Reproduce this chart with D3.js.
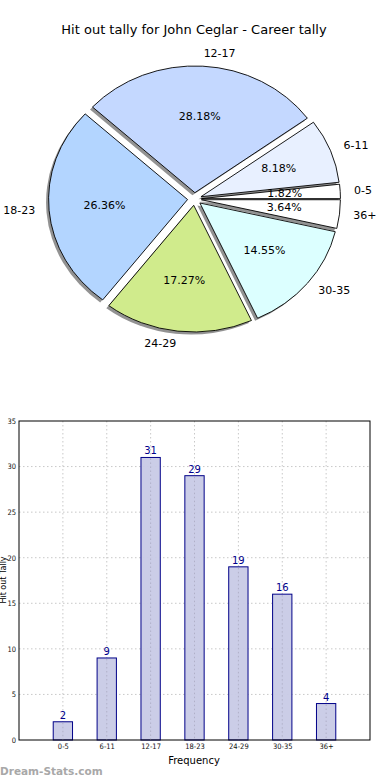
<!DOCTYPE html>
<html><head><meta charset="utf-8">
<script src="https://cdn.jsdelivr.net/npm/d3@7"></script>
<style>body{margin:0;background:#fff}svg{display:block}</style>
</head><body>
<svg id="c" width="390" height="780"></svg>
<script>
const categories = ["0-5","6-11","12-17","18-23","24-29","30-35","36+"];
const values = [2, 9, 31, 29, 19, 16, 4];
const pieColors = ["#ffffff","#e8f0ff","#c4d8ff","#b3d5ff","#d0eb8c","#dcffff","#ffffff"];
const yTicks = [0,5,10,15,20,25,30,35];
const title = "Hit out tally for John Ceglar - Career tally";

const svg = d3.select("#c");
const FONT = "DejaVu Sans, sans-serif";

// ---- Pie (matplotlib-style, elliptical, starting at 3 o'clock CCW) ----
svg.append("text").attr("x",194).attr("y",30).attr("text-anchor","middle")
  .attr("dominant-baseline","middle").attr("font-family",FONT).attr("font-size",13).text(title);

const cx = 194.5, cy = 199, rx = 139, ry = 126.7, explode = 0.05;
const total = d3.sum(values);
const R = 100;
const arc = d3.arc().innerRadius(0).outerRadius(R);
let start = 0;
const slices = values.map((v,i)=>{
  const th0 = start, th1 = start + v/total*2*Math.PI; start = th1;
  return {i, v, th0, th1, mid:(th0+th1)/2};
});
const pg = svg.append("g");
function centerOf(s){
  return [cx + explode*rx*Math.cos(s.mid), cy - explode*ry*Math.sin(s.mid)];
}
// shadows
slices.forEach(s=>{
  const [x,y] = centerOf(s);
  pg.append("path")
    .attr("transform",`translate(${x-2.5},${y+2.5}) scale(${rx/R},${ry/R})`)
    .attr("d", arc({startAngle:Math.PI/2 - s.th1, endAngle:Math.PI/2 - s.th0}))
    .attr("fill","#6e6e6e").attr("opacity",0.75).attr("stroke","none");
});
slices.forEach(s=>{
  const [x,y] = centerOf(s);
  pg.append("path")
    .attr("transform",`translate(${x},${y}) scale(${rx/R},${ry/R})`)
    .attr("d", arc({startAngle:Math.PI/2 - s.th1, endAngle:Math.PI/2 - s.th0}))
    .attr("fill",pieColors[s.i]).attr("stroke","#000").attr("stroke-width",0.9)
    .attr("vector-effect","non-scaling-stroke");
});
slices.forEach(s=>{
  const [x,y] = centerOf(s);
  const c = Math.cos(s.mid), sn = Math.sin(s.mid);
  const lx = x + 1.1*rx*c, ly = y - 1.1*ry*sn;
  pg.append("text").attr("x",lx).attr("y",ly)
    .attr("text-anchor", lx > cx ? "start" : "end").attr("dominant-baseline","middle")
    .attr("font-family",FONT).attr("font-size",11).text(categories[s.i]);
  pg.append("text").attr("x",x + 0.6*rx*c).attr("y",y - 0.6*ry*sn)
    .attr("text-anchor","middle").attr("dominant-baseline","middle")
    .attr("font-family",FONT).attr("font-size",11)
    .text((s.v/total*100).toFixed(2)+"%");
});

// ---- Bar chart ----
const L = 19, Rr = 370, T = 421, B = 740;
const x = d3.scaleLinear().domain([-1, 7]).range([L, Rr]);
const y = d3.scaleLinear().domain([0, 35]).range([B, T]);
const bg = svg.append("g");
const barW = 0.44;
// grid
yTicks.slice(1, -1).forEach(t=>{
  bg.append("line").attr("x1",L).attr("x2",Rr).attr("y1",y(t)).attr("y2",y(t))
    .attr("stroke","#c8c8c8").attr("stroke-width",1).attr("stroke-dasharray","1.5,2.5");
});
categories.forEach((c,i)=>{
  bg.append("line").attr("x1",x(i)).attr("x2",x(i)).attr("y1",T).attr("y2",B)
    .attr("stroke","#c8c8c8").attr("stroke-width",1).attr("stroke-dasharray","1.5,2.5");
});
// bars
bg.selectAll("rect.bar").data(values).enter().append("rect").attr("class","bar")
  .attr("x",(d,i)=>x(i-barW/2)).attr("width",x(barW)-x(0))
  .attr("y",d=>y(d)).attr("height",d=>B-y(d))
  .attr("fill","#c8cae6").attr("fill-opacity",0.95)
  .attr("stroke","#000088").attr("stroke-width",1);
// dotted grid visible over bars
categories.forEach((c,i)=>{
  bg.append("line").attr("x1",x(i)).attr("x2",x(i)).attr("y1",y(values[i])+1).attr("y2",B)
    .attr("stroke","#b0b0c8").attr("stroke-width",1).attr("stroke-dasharray","1.5,2.5");
});
// value labels
bg.selectAll("text.val").data(values).enter().append("text").attr("class","val")
  .attr("x",(d,i)=>x(i)).attr("y",d=>y(d)-3).attr("text-anchor","middle")
  .attr("font-family",FONT).attr("font-size",10).attr("fill","#00008b").text(d=>d);
// frame
bg.append("rect").attr("x",L).attr("y",T).attr("width",Rr-L).attr("height",B-T)
  .attr("fill","none").attr("stroke","#000").attr("stroke-width",1);
// axes
const yAxis = d3.axisLeft(y).tickValues(yTicks).tickSize(0).tickPadding(3);
const ya = bg.append("g").attr("transform",`translate(${L},0)`).call(yAxis);
ya.select(".domain").remove();
ya.selectAll("text").attr("font-family","DejaVu Sans Condensed, DejaVu Sans, sans-serif").attr("font-size",7.5).attr("fill","#111");
const xAxis = d3.axisBottom(x).tickValues(d3.range(categories.length)).tickFormat(i=>categories[i]).tickSize(0).tickPadding(4);
const xa = bg.append("g").attr("transform",`translate(0,${B})`).call(xAxis);
xa.select(".domain").remove();
xa.selectAll("text").attr("font-family","DejaVu Sans Condensed, DejaVu Sans, sans-serif").attr("font-size",7.5).attr("fill","#111");
bg.append("text").attr("x",194).attr("y",761).attr("text-anchor","middle").attr("dominant-baseline","middle")
  .attr("font-family",FONT).attr("font-size",10).text("Frequency");
bg.append("text").attr("transform","translate(6,580) rotate(-90)").attr("text-anchor","middle")
  .attr("font-family",FONT).attr("font-size",8).text("Hit out Tally");
svg.append("text").attr("x",0).attr("y",775).attr("font-family",FONT).attr("font-size",10.5)
  .attr("font-weight","bold").attr("fill","#a8a8a8").text("Dream-Stats.com");
</script>
</body></html>
